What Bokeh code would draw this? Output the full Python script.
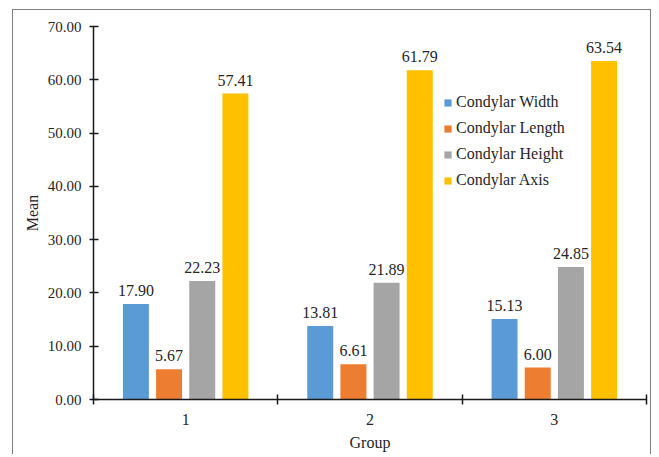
from bokeh.plotting import figure
from bokeh.models import (ColumnDataSource, FixedTicker, Range1d, Legend, LegendItem,
                          PrintfTickFormatter, LabelSet, InlineStyleSheet)
from bokeh.transform import dodge
from bokeh.core.properties import value
from bokeh.embed import file_html
from bokeh.resources import INLINE

groups = ["1", "2", "3"]
series = ["Condylar Width", "Condylar Length", "Condylar Height", "Condylar Axis"]
width_vals = [17.90, 13.81, 15.13]
length_vals = [5.67, 6.61, 6.00]
height_vals = [22.23, 21.89, 24.85]
axis_vals = [57.41, 61.79, 63.54]
y_ticks = [0, 10, 20, 30, 40, 50, 60, 70]

colors = ["#5B9BD5", "#ED7D31", "#A5A5A5", "#FFC000"]
offsets = [-0.27, -0.09, 0.09, 0.27]
FONT = "Liberation Serif"
TXT = "#262626"
AX = "#1a1a1a"

xs = [i + 1 for i in range(len(groups))]

p = figure(width=652, height=455, x_range=Range1d(0.5, len(groups) + 0.5),
           y_range=Range1d(0, 70), output_backend="svg", toolbar_location=None,
           min_border_left=93, min_border_right=6, min_border_top=26, min_border_bottom=56)
p.outline_line_color = None
p.xgrid.grid_line_color = None
p.ygrid.grid_line_color = None
p.border_fill_color = None
p.background_fill_color = None
p.stylesheets = [InlineStyleSheet(css=(
    ":host { position: relative; }"
    ":host::before { content: ''; position: absolute; left: 12px; top: 9px; "
    "width: 639px; height: 445px; border: 1px solid #7f7f7f; border-bottom: none; "
    "box-sizing: border-box; pointer-events: none; }"
))]

items = []
for name, vals, col, off in zip(series, [width_vals, length_vals, height_vals, axis_vals], colors, offsets):
    src = ColumnDataSource(dict(x=xs, top=vals, label=[f"{v:.2f}" for v in vals]))
    r = p.vbar(x=dodge("x", off, range=p.x_range), top="top", bottom=0, width=0.141,
               source=src, fill_color=col, line_color=None)
    items.append(LegendItem(label=name, renderers=[r]))
    lbl = LabelSet(x=dodge("x", off, range=p.x_range), y="top", text="label", source=src,
                   text_align="center", text_baseline="alphabetic", y_offset=8,
                   text_font=value(FONT), text_font_size="16px", text_color=TXT)
    p.add_layout(lbl)

legend = Legend(items=items, location=(350, 209), orientation="vertical", padding=0,
                spacing=6, label_height=20, glyph_height=9, glyph_width=9, label_standoff=4,
                border_line_alpha=0, background_fill_alpha=0,
                label_text_font=FONT, label_text_font_size="16px", label_text_color=TXT)
p.add_layout(legend)

# Y axis
ya = p.yaxis[0]
ya.ticker = FixedTicker(ticks=y_ticks)
ya.formatter = PrintfTickFormatter(format="%.2f")
ya.axis_label = "Mean"
ya.axis_label_text_font = FONT
ya.axis_label_text_font_size = "16px"
ya.axis_label_text_font_style = "normal"
ya.axis_label_text_color = TXT
ya.axis_label_standoff = 4
ya.major_label_text_font = FONT
ya.major_label_text_font_size = "15px"
ya.major_label_text_color = TXT
ya.major_label_standoff = 8
ya.major_tick_in = 5
ya.major_tick_out = 4
ya.minor_tick_line_color = None
ya.axis_line_width = 1.5
ya.axis_line_color = AX
ya.major_tick_line_color = AX
ya.major_tick_line_width = 1.5

# X axis
xa = p.xaxis[0]
xa.ticker = FixedTicker(ticks=xs, minor_ticks=[x - 0.5 for x in xs] + [xs[-1] + 0.5])
xa.major_label_overrides = {x: g for x, g in zip(xs, groups)}
xa.axis_label = "Group"
xa.axis_label_text_font = FONT
xa.axis_label_text_font_size = "16px"
xa.axis_label_text_font_style = "normal"
xa.axis_label_text_color = TXT
xa.axis_label_standoff = 6
xa.major_label_text_font = FONT
xa.major_label_text_font_size = "16px"
xa.major_label_text_color = TXT
xa.major_label_standoff = 9
xa.major_tick_in = 0
xa.major_tick_out = 0
xa.major_tick_line_color = None
xa.minor_tick_in = 5
xa.minor_tick_out = 5
xa.minor_tick_line_color = AX
xa.minor_tick_line_width = 1.5
xa.axis_line_width = 1.5
xa.axis_line_color = AX

open("out.html", "w").write(file_html(p, INLINE))
